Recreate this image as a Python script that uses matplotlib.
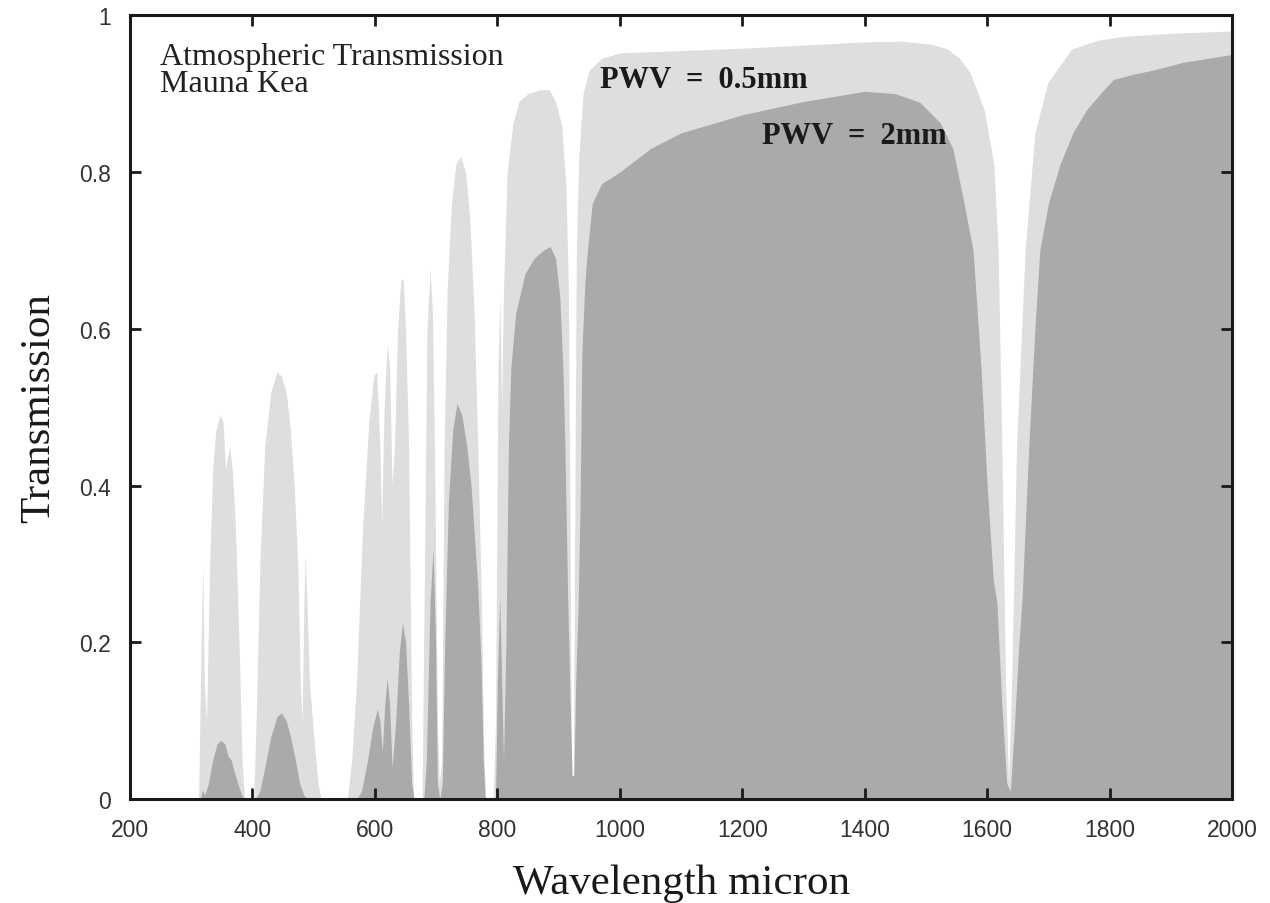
import matplotlib
matplotlib.use("Agg")
import matplotlib.pyplot as plt
from matplotlib.ticker import FixedLocator, FuncFormatter

# Atmospheric transmission over Mauna Kea, two precipitable water vapour levels
wl_pwv05 = [
    300, 312, 316, 319, 321, 325, 330, 335, 340, 347, 352, 356, 360, 363, 367, 372,
    378, 383, 387, 402, 406, 412, 420, 430, 440, 447, 455, 462, 468, 474, 478, 481,
    484, 486, 489, 493, 500, 507, 512, 555, 562, 570, 580, 590, 598, 603, 608, 611,
    615, 620, 624, 628, 632, 637, 642, 646, 650, 655, 660, 663, 677, 681, 685, 690,
    694, 698, 702, 705, 709, 713, 718, 725, 732, 740, 748, 755, 762, 768, 774, 778,
    781, 793, 797, 801, 804, 807, 810, 816, 825, 835, 850, 870, 885, 895, 905, 912,
    916, 919, 921, 924, 926, 929, 933, 940, 950, 970, 1000, 1100, 1200, 1300, 1400,
    1460, 1510, 1535, 1555, 1572, 1595, 1611, 1618, 1624, 1630, 1635, 1640, 1648,
    1662, 1678, 1699, 1738, 1780, 1820, 1900, 2000,
]
tr_pwv05 = [
    0.0, 0.0, 0.20, 0.30, 0.15, 0.10, 0.30, 0.42, 0.47, 0.49, 0.48, 0.42, 0.44, 0.45, 0.42, 0.35,
    0.20, 0.05, 0.0, 0.0, 0.10, 0.30, 0.45, 0.52, 0.545, 0.54, 0.52, 0.47, 0.40, 0.30, 0.15, 0.10,
    0.25, 0.31, 0.25, 0.15, 0.08, 0.02, 0.0, 0.0, 0.05, 0.15, 0.35, 0.48, 0.54, 0.545, 0.45, 0.35,
    0.50, 0.58, 0.55, 0.40, 0.45, 0.60, 0.66, 0.665, 0.60, 0.45, 0.10, 0.0, 0.0, 0.30, 0.60, 0.675,
    0.62, 0.40, 0.10, 0.02, 0.05, 0.45, 0.65, 0.76, 0.81, 0.82, 0.80, 0.74, 0.62, 0.45, 0.25, 0.05,
    0.0, 0.0, 0.10, 0.55, 0.64, 0.50, 0.65, 0.80, 0.86, 0.89, 0.90, 0.905, 0.905, 0.89, 0.86, 0.78,
    0.65, 0.30, 0.02, 0.02, 0.30, 0.70, 0.82, 0.90, 0.93, 0.945, 0.952, 0.955, 0.958, 0.962, 0.966,
    0.967, 0.963, 0.957, 0.945, 0.927, 0.88, 0.81, 0.70, 0.45, 0.15, 0.02, 0.15, 0.45,
    0.70, 0.85, 0.914, 0.957, 0.968, 0.973, 0.977, 0.98,
]

wl_pwv2 = [
    300, 315, 318, 322, 328, 335, 342, 348, 355, 360, 365, 372, 380, 386, 405, 412,
    420, 430, 440, 447, 455, 462, 470, 477, 484, 490, 570, 578, 588, 596, 604, 608,
    612, 616, 620, 624, 628, 634, 640, 645, 650, 655, 660, 664, 680, 684, 690, 695,
    699, 702, 706, 710, 714, 720, 727, 734, 742, 750, 757, 763, 768, 773, 777, 780,
    797, 800, 804, 807, 810, 814, 818, 822, 830, 845, 860, 875, 886, 895, 902, 907,
    910, 915, 919, 922, 925, 928, 932, 935, 938, 943, 947, 955, 970, 1000, 1050,
    1100, 1200, 1300, 1400, 1450, 1490, 1523, 1544, 1561, 1577, 1590, 1600,
    1610, 1616, 1624, 1632, 1638, 1645, 1652, 1657, 1668, 1678, 1686, 1700, 1719,
    1740, 1763, 1785, 1806, 1840, 1871, 1920, 2000,
]
tr_pwv2 = [
    0.0, 0.0, 0.012, 0.005, 0.02, 0.05, 0.07, 0.075, 0.07, 0.055, 0.05, 0.03, 0.01, 0.0, 0.0, 0.01,
    0.04, 0.08, 0.105, 0.11, 0.10, 0.08, 0.05, 0.02, 0.005, 0.0, 0.0, 0.01, 0.05, 0.09, 0.115, 0.10,
    0.06, 0.12, 0.155, 0.12, 0.04, 0.10, 0.19, 0.225, 0.20, 0.12, 0.02, 0.0, 0.0, 0.05, 0.25, 0.32,
    0.20, 0.02, 0.0, 0.02, 0.20, 0.38, 0.47, 0.505, 0.49, 0.45, 0.40, 0.33, 0.27, 0.18, 0.05, 0.0,
    0.0, 0.15, 0.26, 0.15, 0.05, 0.20, 0.45, 0.55, 0.62, 0.67, 0.69, 0.70, 0.705, 0.69, 0.64, 0.55,
    0.46, 0.25, 0.12, 0.03, 0.03, 0.15, 0.25, 0.37, 0.57, 0.66, 0.70, 0.76, 0.785, 0.80, 0.83,
    0.85, 0.873, 0.89, 0.903, 0.90, 0.889, 0.863, 0.83, 0.765, 0.70, 0.55, 0.40,
    0.28, 0.25, 0.12, 0.02, 0.01, 0.10, 0.20, 0.255, 0.45, 0.60, 0.70, 0.76, 0.81,
    0.85, 0.88, 0.90, 0.918, 0.925, 0.93, 0.94, 0.95,
]

x_ticks = [200, 400, 600, 800, 1000, 1200, 1400, 1600, 1800, 2000]
y_ticks = [0, 0.2, 0.4, 0.6, 0.8, 1]

LIGHT = "#dcdfde"
DARK = "#a8abaa"
SERIF = ["Liberation Serif", "DejaVu Serif"]
SANS = ["Liberation Sans", "DejaVu Sans"]

fig = plt.figure(figsize=(12.70, 9.04), dpi=100)
ax = fig.add_axes([0.1024, 0.115, 0.8677, 0.867])

ax.fill_between(wl_pwv05, 0, tr_pwv05, color=LIGHT, linewidth=0)
ax.fill_between(wl_pwv2, 0, tr_pwv2, color=DARK, linewidth=0)

ax.set_xlim(200, 2000)
ax.set_ylim(0, 1)
ax.xaxis.set_major_locator(FixedLocator(x_ticks))
ax.yaxis.set_major_locator(FixedLocator(y_ticks))
ax.yaxis.set_major_formatter(FuncFormatter(lambda v, p: f"{v:g}"))
ax.tick_params(direction="in", length=8, width=2, top=True, right=True,
               labelsize=16.5, colors="#1a1a1a", labelcolor="#333333")
ax.tick_params(axis="x", pad=14)
ax.tick_params(axis="y", pad=14)
for lab in ax.get_xticklabels() + ax.get_yticklabels():
    lab.set_family(SANS)
for sp in ax.spines.values():
    sp.set_linewidth(2.2)
    sp.set_color("#1a1a1a")

ax.set_xlabel("Wavelength micron", family=SERIF, fontsize=31, labelpad=16, color="#1a1a1a")
ax.set_ylabel("Transmission", family=SERIF, fontsize=31, labelpad=15, color="#1a1a1a")

ax.text(0.027, 0.966, "Atmospheric Transmission\nMauna Kea", transform=ax.transAxes,
        family=SERIF, fontsize=23, va="top", ha="left", linespacing=0.92, color="#222222")
ax.text(967, 0.918, "PWV  =  0.5mm", family=SERIF, fontsize=22, fontweight="bold",
        ha="left", va="center", color="#1a1a1a")
ax.text(1232, 0.847, "PWV  =  2mm", family=SERIF, fontsize=22, fontweight="bold",
        ha="left", va="center", color="#1a1a1a")

fig.savefig("out.png", dpi=100, facecolor="white")
